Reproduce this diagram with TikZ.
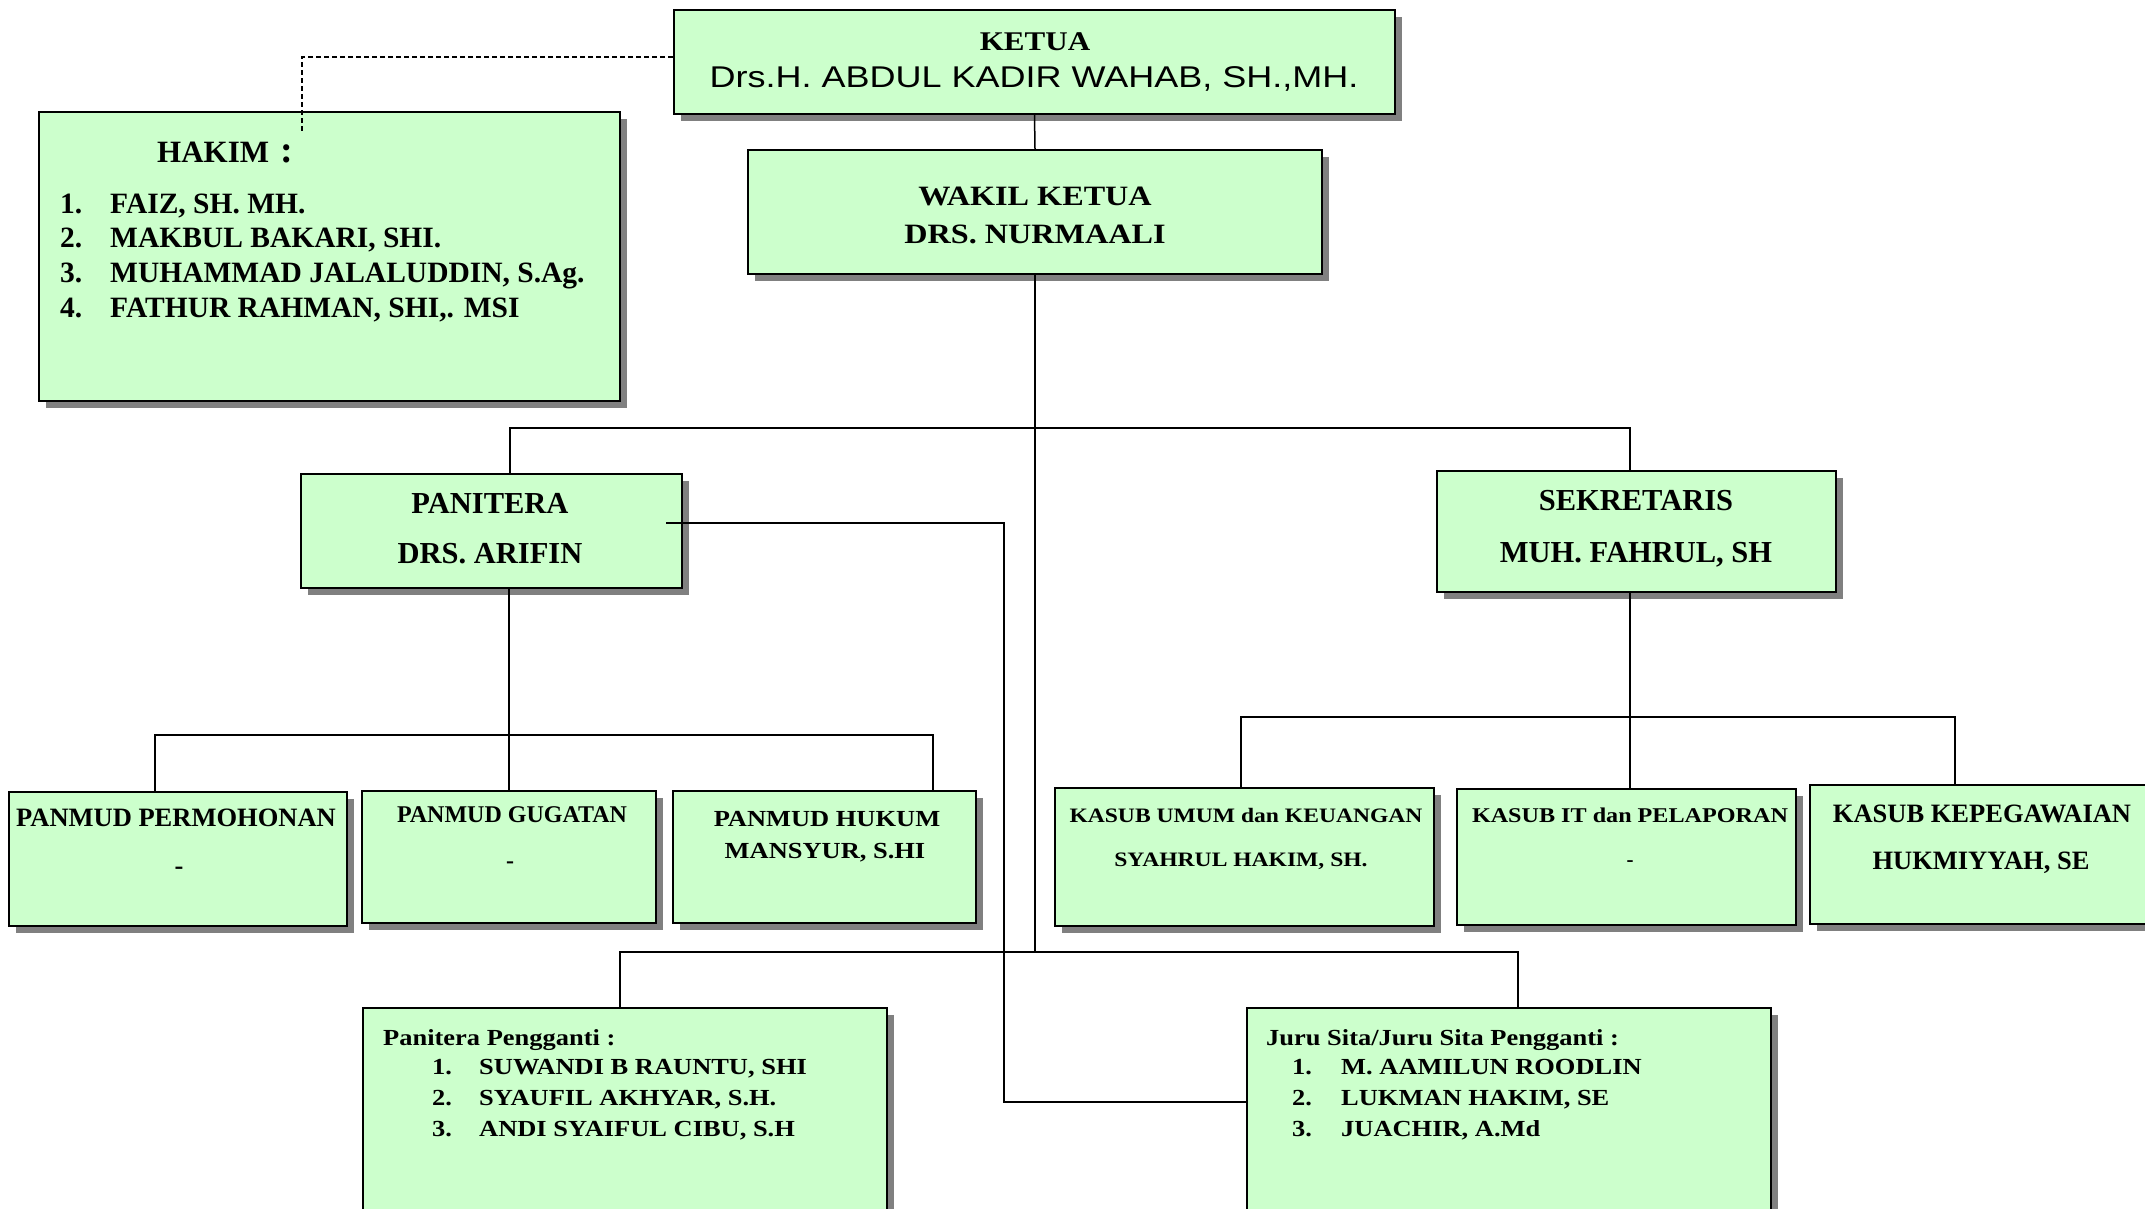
\documentclass[tikz,border=0pt]{standalone}
\usepackage{fontspec}
\setmainfont{Liberation Serif}
\newfontfamily\wideserif[FakeStretch=1.15]{Liberation Serif}
\newfontfamily\widesans[FakeStretch=1.2]{Liberation Sans}
\usetikzlibrary{shadows,calc}
\definecolor{boxgreen}{RGB}{204,255,204}
\definecolor{shadowgrey}{RGB}{128,128,128}

\begin{document}
\begin{tikzpicture}[x=1pt, y=-1pt,
    unit/.style={rectangle, draw=black, line width=2pt, fill=boxgreen, inner sep=0pt,
                 drop shadow={shadow xshift=7pt, shadow yshift=-7pt, fill=shadowgrey, opacity=1}},
    link/.style={draw=black, line width=1.5pt},
    dashlink/.style={link, dash pattern=on 5pt off 3pt},
    lbl/.style={inner sep=0pt, anchor=base, font=\bfseries\fontsize{#1}{#1}\selectfont},
    wlbl/.style={inner sep=0pt, anchor=base, font=\wideserif\bfseries\fontsize{#1}{#1}\selectfont},
    dash/.style={inner sep=0pt, anchor=center, font=\bfseries\fontsize{#1}{#1}\selectfont}
]
    \useasboundingbox (0,0) rectangle (2145,1208);
    \clip (0,0) rectangle (2145,1208);
    \node[unit, minimum width=721pt, minimum height=104pt] (ketua) at (1034.5,62) {};
    \node[unit, minimum width=581pt, minimum height=289pt] (hakim) at (329.5,256.5) {};
    \node[unit, minimum width=574pt, minimum height=124pt] (wakil) at (1035,212) {};
    \node[unit, minimum width=381pt, minimum height=114pt] (panitera) at (491.5,531) {};
    \node[unit, minimum width=399pt, minimum height=121pt] (sekretaris) at (1636.5,531.5) {};
    \node[unit, minimum width=338pt, minimum height=134pt] (permohonan) at (178,859) {};
    \node[unit, minimum width=294pt, minimum height=132pt] (gugatan) at (509,857) {};
    \node[unit, minimum width=303pt, minimum height=132pt] (hukum) at (824.5,857) {};
    \node[unit, minimum width=379pt, minimum height=138pt] (umum) at (1244.5,857) {};
    \node[unit, minimum width=339pt, minimum height=136pt] (it) at (1626.5,857) {};
    \node[unit, minimum width=342pt, minimum height=139pt] (kepeg) at (1981,854.5) {};
    \node[unit, minimum width=524pt, minimum height=232pt] (pengganti) at (625,1124) {};
    \node[unit, minimum width=524pt, minimum height=232pt] (jurusita) at (1509,1124) {};

    \coordinate (hakimtip) at (302,132);
    \coordinate (topbus) at (1035,428);
    \coordinate (lowbus) at (1035,952);
    \coordinate (panbus) at (509,735);
    \coordinate (sekbus) at (1630,717);
    \coordinate (jsbend) at (1004,1102);
    \draw[dashlink] ([yshift=5pt]ketua.west) -| (hakimtip);
    \draw[link] (ketua.south) -- (wakil.north);
    \draw[link] (wakil.south) -- (lowbus);
    \draw[link] ([xshift=18.5pt]panitera.north) |- (topbus) -| ([xshift=-6.5pt]sekretaris.north);
    \draw[link] (gugatan.north) -- (gugatan.north |- panitera.south);
    \draw[link] ([xshift=-23pt]permohonan.north) |- (panbus) -| ([xshift=108.5pt]hukum.north);
    \draw[link] ([xshift=-6.5pt]sekretaris.south) -- ([xshift=3.5pt]it.north);
    \draw[link] ([xshift=-3.5pt]umum.north) |- (sekbus) -| ([xshift=-26pt]kepeg.north);
    \draw[link] ([xshift=-5pt]pengganti.north) |- (lowbus) -| ([xshift=9pt]jurusita.north);
    \draw[link] ([xshift=-17pt,yshift=8pt]panitera.east) -| (jsbend) -- (jsbend -| jurusita.west);

    \node[wlbl=27] (ketuat) at (1035,50) {KETUA};
    \node[inner sep=0pt, anchor=base, font=\widesans\fontsize{30}{30}\selectfont] (ketuan) at (1034,87) {Drs.H. ABDUL KADIR WAHAB, SH.,MH.};
    \node[lbl=31, anchor=base west] (hakimt) at (157,162) {HAKIM\hspace{11pt}{\fontsize{38}{38}\selectfont:}};
    \foreach \nm [count=\i] in {{FAIZ, SH. MH.}, {MAKBUL BAKARI, SHI.}, {MUHAMMAD JALALUDDIN, S.Ag.}, {FATHUR RAHMAN, SHI,. MSI}} {
        \node[lbl=29.5, anchor=base west] (hakimno\i) at (60,{213+34.7*(\i-1)}) {\i.};
        \node[lbl=29.5, anchor=base west] (hakim\i) at (110,{213+34.7*(\i-1)}) {\nm};
    }
    \node[wlbl=28] (wakilt) at (1035,205) {WAKIL KETUA};
    \node[wlbl=28] (wakiln) at (1035,243) {DRS. NURMAALI};
    \node[lbl=30.5] (paniterat) at (490,513) {PANITERA};
    \node[lbl=30.5] (paniteran) at (490,563) {DRS. ARIFIN};
    \node[lbl=30.5] (sekretarist) at (1636,510) {SEKRETARIS};
    \node[lbl=30.5] (sekretarisn) at (1636,562) {MUH. FAHRUL, SH};
    \node[lbl=26.5] (permohonant) at (176,826) {PANMUD PERMOHONAN};
    \node[dash=26.5] (permohonann) at (179,871) {-};
    \node[lbl=24] (gugatant) at (512,822) {PANMUD GUGATAN};
    \node[dash=24] (gugatann) at (510,865) {-};
    \node[wlbl=23] (hukumt) at (827,826) {PANMUD HUKUM};
    \node[wlbl=23] (hukumn) at (825,858) {MANSYUR, S.HI};
    \node[wlbl=20.5] (umumt) at (1246,822) {KASUB UMUM dan KEUANGAN};
    \node[wlbl=20.5] (umumn) at (1241,866) {SYAHRUL HAKIM, SH.};
    \node[wlbl=21] (itt) at (1630,822) {KASUB IT dan PELAPORAN};
    \node[dash=21] (itn) at (1630,864) {-};
    \node[lbl=26.5] (kepegt) at (1982,822) {KASUB KEPEGAWAIAN};
    \node[lbl=26.5] (kepegn) at (1981,869) {HUKMIYYAH, SE};
    \node[wlbl=23, anchor=base west] (penggantit) at (383,1045) {Panitera Pengganti :};
    \foreach \nm [count=\i] in {{SUWANDI B RAUNTU, SHI}, {SYAUFIL AKHYAR, S.H.}, {ANDI SYAIFUL CIBU, S.H}} {
        \node[wlbl=23, anchor=base west] (penggantino\i) at (432,{1074+31*(\i-1)}) {\i.};
        \node[wlbl=23, anchor=base west] (pengganti\i) at (479,{1074+31*(\i-1)}) {\nm};
    }
    \node[wlbl=23, anchor=base west] (jurusitat) at (1266,1045) {Juru Sita/Juru Sita Pengganti :};
    \foreach \nm [count=\i] in {{M. AAMILUN ROODLIN}, {LUKMAN HAKIM, SE}, {JUACHIR, A.Md}} {
        \node[wlbl=23, anchor=base west] (jurusitano\i) at (1292,{1074+31*(\i-1)}) {\i.};
        \node[wlbl=23, anchor=base west] (jurusita\i) at (1341,{1074+31*(\i-1)}) {\nm};
    }
\end{tikzpicture}
\end{document}
